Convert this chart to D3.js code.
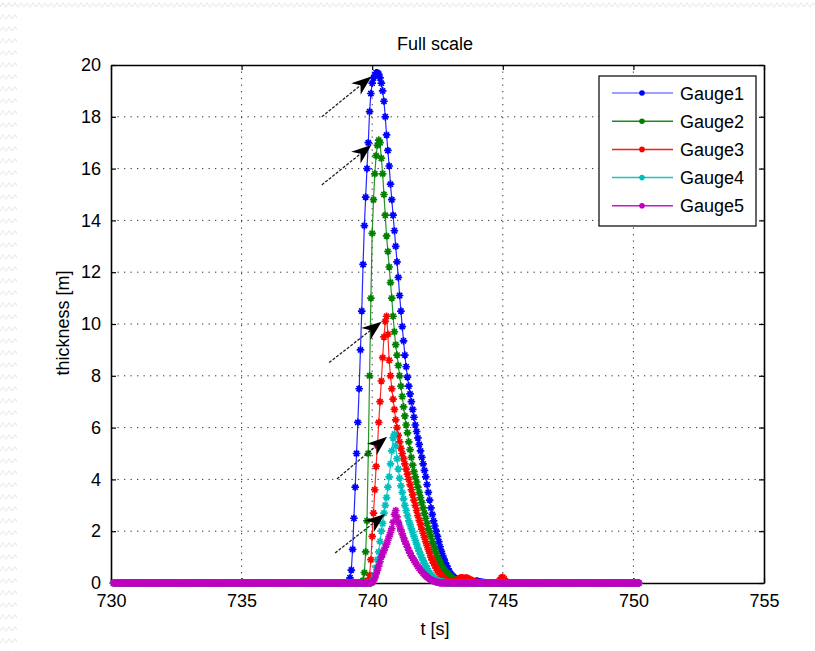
<!DOCTYPE html>
<html><head><meta charset="utf-8">
<script src="https://cdn.jsdelivr.net/npm/d3@7"></script>
<style>
body{margin:0;background:#fff;}
svg{display:block;}
text{font-family:"Liberation Sans",Arial,Helvetica,sans-serif;fill:#000;}
</style>
</head><body>
<svg id="chart" width="815" height="651"></svg>
<script>
// ---------------- data ----------------
const titleText = "Full scale";
const xLabelText = "t [s]";
const yLabelText = "thickness [m]";
const seriesNames = ["Gauge1", "Gauge2", "Gauge3", "Gauge4", "Gauge5"];
const seriesColors = ["#0000ff", "#008000", "#ff0000", "#00bfbf", "#bf00bf"];
const xTicks = [730, 735, 740, 745, 750, 755];
const yTicks = [0, 2, 4, 6, 8, 10, 12, 14, 16, 18, 20];
const xGrid = [735, 740, 745, 750];
const yGrid = [2, 4, 6, 8, 10, 12, 14, 16, 18];

// sampling of the recorded signals (s)
const sampleStart = 730.1, sampleEnd = 750.2, sampleStep = 0.05;
// pulse values, one every 0.05 s starting at t = 739.00 s; zero elsewhere
const pulseStart = 739.0;
const gauge1 = [
  0,0,0.05,0.2,0.5,1.3,2.5,3.7,5.0,6.2,7.5,9.0,10.5,12.3,13.8,14.9,16.0,17.0,18.2,18.9,
  19.3,19.5,19.6,19.7,19.7,19.65,19.5,19.3,19.0,18.6,18.0,17.3,16.7,16.1,15.4,14.8,14.2,13.6,13.0,12.4,
  11.8,11.1,10.5,9.9,9.35,8.8,8.35,7.95,7.6,7.3,7.0,6.7,6.4,6.1,5.85,5.6,5.35,5.1,4.85,4.6,
  4.35,4.1,3.8,3.5,3.2,2.9,2.65,2.4,2.2,2.0,1.8,1.6,1.4,1.22,1.06,0.92,0.78,0.66,0.55,0.45,
  0.36,0.3,0.25,0.2,0.16,0.13,0.1,0.08,0.06,0.05,0.08,0.1,0.1,0.08,0.07,0.1,0.08,0.07,0.05,0.07,
  0.08,0.07,0.05,0.04,0.03,0.02,0.02,0.01
];
const gauge2 = [
  0,0,0,0,0,0,0,0,0,0,0,0,0,0.1,0.4,1.2,2.4,5.0,8.0,11.0,
  13.5,14.8,15.8,16.5,16.9,17.1,17.0,16.4,15.8,15.0,14.2,13.4,12.8,12.2,11.6,11.0,10.3,9.7,9.2,8.8,
  8.4,8.0,7.6,7.2,6.8,6.45,6.1,5.8,5.45,5.15,4.85,4.55,4.3,4.1,3.9,3.7,3.5,3.3,3.1,2.9,
  2.7,2.5,2.3,2.1,1.95,1.8,1.6,1.45,1.3,1.15,1.0,0.9,0.78,0.68,0.6,0.52,0.45,0.4,0.35,0.3,
  0.25,0.2,0.16,0.13,0.1,0.08,0.06,0.05,0.04,0.05,0.07,0.08,0.07,0.05,0.04,0.03,0.02,0.01
];
const gauge3 = [
  0,0,0,0,0,0,0,0,0,0,0,0,0,0,0,0,0,0.1,0.3,0.9,
  1.8,2.7,3.6,4.5,5.3,6.2,7.0,7.8,8.7,9.5,10.1,10.3,9.6,8.6,8.0,7.5,7.1,6.7,6.3,6.0,
  5.7,5.45,5.2,5.0,4.8,4.6,4.4,4.2,4.0,3.8,3.6,3.4,3.2,3.0,2.8,2.6,2.42,2.25,2.08,1.92,
  1.76,1.6,1.45,1.3,1.15,1.0,0.88,0.77,0.67,0.57,0.48,0.4,0.33,0.27,0.22,0.17,0.13,0.1,0.08,0.06,
  0.05,0.04,0.03,0.03,0.05,0.08,0.14,0.18,0.2,0.2,0.18,0.17,0.2,0.18,0.15,0.13,0.1,0.07,0.05,0.04,
  0.03,0.02,0.01,0,0,0,0,0,0,0,0,0,0,0,0,0,0,0.06,0.14,0.2,
  0.22,0.16,0.08,0.03,0
];
const gauge4 = [
  0,0,0,0,0,0,0,0,0,0,0,0,0,0,0,0,0,0,0,0,
  0.05,0.15,0.3,0.6,0.9,1.2,1.6,2.0,2.3,2.7,3.0,3.3,3.7,4.1,4.6,5.1,5.6,5.75,5.3,4.8,
  4.4,4.05,3.75,3.5,3.25,3.0,2.8,2.6,2.4,2.25,2.1,1.95,1.8,1.65,1.5,1.35,1.22,1.1,0.98,0.87,
  0.76,0.66,0.56,0.47,0.39,0.32,0.26,0.2,0.16,0.12,0.1,0.08,0.06,0.05,0.04,0.03,0.02
];
const gauge5 = [
  0,0,0,0,0,0,0,0,0,0,0,0,0,0,0,0,0,0,0,0,
  0.03,0.08,0.2,0.35,0.5,0.65,0.82,1.0,1.12,1.25,1.38,1.5,1.65,1.8,1.95,2.1,2.35,2.65,2.8,2.55,
  2.35,2.2,2.05,1.9,1.75,1.62,1.5,1.38,1.26,1.15,1.05,0.96,0.88,0.8,0.72,0.64,0.57,0.5,0.44,0.38,
  0.33,0.28,0.23,0.19,0.15,0.12,0.1,0.08,0.06,0.04,0.03,0.02
];
const gaugeValues = [gauge1, gauge2, gauge3, gauge4, gauge5];

// annotation arrows, data coordinates [t, thickness]
const arrowTails = [[738.07, 18.0], [738.07, 15.37], [738.35, 8.51], [738.65, 4.02], [738.58, 1.16]];
const arrowHeads = [[739.97, 19.56], [739.97, 16.91], [740.36, 10.09], [740.57, 5.65], [740.49, 2.66]];

// ---------------- drawing ----------------
const svg = d3.select("#chart");
const W = 815, H = 651;
const plot = {left: 111, right: 764, top: 65, bottom: 583};
const x = d3.scaleLinear().domain([730, 755]).range([plot.left, plot.right]);
const y = d3.scaleLinear().domain([0, 20]).range([plot.bottom, plot.top]);

// faint decorative page border (zigzag)
const defs = svg.append("defs");
const pat = defs.append("pattern").attr("id", "zz").attr("width", 12).attr("height", 12)
  .attr("patternUnits", "userSpaceOnUse");
pat.append("path").attr("d", "M0,7 L3,3 L6,7 L9,3 L12,7").attr("fill", "none")
  .attr("stroke", "#ececec").attr("stroke-width", 1.2);
svg.append("rect").attr("x", 0).attr("y", 0).attr("width", W).attr("height", 9).attr("fill", "url(#zz)");
svg.append("rect").attr("x", 0).attr("y", 0).attr("width", 17).attr("height", H).attr("fill", "url(#zz)");

// grid
const grid = svg.append("g").attr("stroke", "#333").attr("stroke-width", 1)
  .attr("stroke-dasharray", "1.3,5.2");
grid.selectAll(".gx").data(xGrid).enter().append("line")
  .attr("x1", d => x(d)).attr("x2", d => x(d)).attr("y1", plot.top).attr("y2", plot.bottom);
grid.selectAll(".gy").data(yGrid).enter().append("line")
  .attr("y1", d => y(d)).attr("y2", d => y(d)).attr("x1", plot.left).attr("x2", plot.right);

// axes
function styleAxis(g, labels) {
  g.select(".domain").attr("stroke", "#000").attr("stroke-width", 1.6);
  g.selectAll(".tick line").attr("stroke", "#000").attr("stroke-width", 1.2);
  g.selectAll(".tick text").attr("font-size", 18).attr("fill", "#000")
    .attr("font-family", "'Liberation Sans', Arial, sans-serif");
  if (!labels) g.selectAll(".tick text").remove();
}
const axB = svg.append("g").attr("transform", `translate(0,${plot.bottom})`)
  .call(d3.axisBottom(x).tickValues(xTicks).tickSizeInner(-5).tickSizeOuter(0).tickPadding(11).tickFormat(d3.format("d")));
styleAxis(axB, true);
const axT = svg.append("g").attr("transform", `translate(0,${plot.top})`)
  .call(d3.axisTop(x).tickValues(xTicks).tickSizeInner(-5).tickSizeOuter(0));
styleAxis(axT, false);
const axL = svg.append("g").attr("transform", `translate(${plot.left},0)`)
  .call(d3.axisLeft(y).tickValues(yTicks).tickSizeInner(-5).tickSizeOuter(0).tickPadding(10).tickFormat(d3.format("d")));
styleAxis(axL, true);
const axR = svg.append("g").attr("transform", `translate(${plot.right},0)`)
  .call(d3.axisRight(y).tickValues(yTicks).tickSizeInner(-5).tickSizeOuter(0));
styleAxis(axR, false);

// series
const nSamples = Math.round((sampleEnd - sampleStart) / sampleStep) + 1;
const times = d3.range(nSamples).map(i => +(sampleStart + i * sampleStep).toFixed(2));
function seriesData(vals) {
  return times.map(t => {
    const k = Math.round((t - pulseStart) / sampleStep);
    const v = (k >= 0 && k < vals.length) ? vals[k] : 0;
    return {t, v};
  });
}
const markerPath = "M-3.8,0H3.8M0,-3.8V3.8M-2.6,-2.6L2.6,2.6M-2.6,2.6L2.6,-2.6";
const line = d3.line().x(d => x(d.t)).y(d => y(d.v));
gaugeValues.forEach((vals, i) => {
  const data = seriesData(vals);
  const g = svg.append("g");
  g.append("path").datum(data).attr("d", line).attr("fill", "none")
    .attr("stroke", seriesColors[i]).attr("stroke-width", 1.2).attr("stroke-opacity", 0.85);
  g.selectAll("path.m").data(data).enter().append("path").attr("class", "m")
    .attr("transform", d => `translate(${x(d.t)},${y(d.v)})`)
    .attr("d", markerPath).attr("fill", "none")
    .attr("stroke", seriesColors[i]).attr("stroke-width", 1.7);
});

// arrows
const arrows = svg.append("g");
arrowTails.forEach((tail, i) => {
  const head = arrowHeads[i];
  const x0 = x(tail[0]), y0 = y(tail[1]), x1 = x(head[0]), y1 = y(head[1]);
  const ang = Math.atan2(y1 - y0, x1 - x0);
  const L = 20, Wd = 7.5, ind = 14;
  const bx = x1 - ind * Math.cos(ang), by = y1 - ind * Math.sin(ang);
  arrows.append("line").attr("x1", x0).attr("y1", y0).attr("x2", bx).attr("y2", by)
    .attr("stroke", "#222").attr("stroke-width", 1.3).attr("stroke-dasharray", "3,1.5");
  const c = Math.cos(ang), s = Math.sin(ang);
  const pts = [
    [x1, y1],
    [x1 - L * c + Wd * s, y1 - L * s - Wd * c],
    [bx, by],
    [x1 - L * c - Wd * s, y1 - L * s + Wd * c]
  ];
  arrows.append("path").attr("d", "M" + pts.map(p => p.join(",")).join("L") + "Z").attr("fill", "#000");
});

// legend
const leg = svg.append("g");
leg.append("rect").attr("x", 599).attr("y", 76).attr("width", 157).attr("height", 150)
  .attr("fill", "#fff").attr("stroke", "#000").attr("stroke-width", 1.2);
seriesNames.forEach((name, i) => {
  const ly = 93 + i * 28.2;
  leg.append("line").attr("x1", 612).attr("x2", 673).attr("y1", ly).attr("y2", ly)
    .attr("stroke", seriesColors[i]).attr("stroke-width", 1.5).attr("stroke-opacity", i === 0 ? 0.5 : 0.9);
  leg.append("circle").attr("cx", 642).attr("cy", ly).attr("r", 2.8).attr("fill", seriesColors[i]);
  leg.append("text").attr("x", 680).attr("y", ly + 6.5).attr("font-size", 18).text(name);
});

// title & labels
svg.append("text").attr("x", 435).attr("y", 50).attr("text-anchor", "middle").attr("font-size", 18).text(titleText);
svg.append("text").attr("x", 435).attr("y", 635).attr("text-anchor", "middle").attr("font-size", 18).text(xLabelText);
svg.append("text").attr("transform", "translate(69,323) rotate(-90)").attr("text-anchor", "middle")
  .attr("font-size", 18).text(yLabelText);
</script>
</body></html>
